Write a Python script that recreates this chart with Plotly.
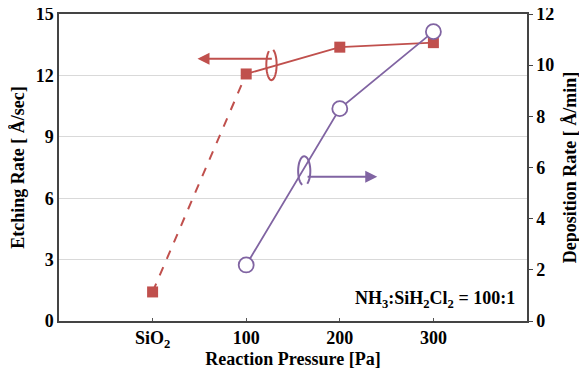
import numpy as np
import plotly.graph_objects as go

categories = ["SiO<sub>2</sub>", "100", "200", "300"]
cat_pos = [0, 1, 2, 3]
etch_sio2 = [1.42, 12.07]          # SiO2 -> 100 (dashed link)
etch_rate = [12.07, 13.38, 13.6]    # 100, 200, 300
dep_rate = [2.19, 8.3, 11.31]       # 100, 200, 300

RED = "#C0504D"
PURPLE = "#8064A2"
FONT = "Liberation Serif"
TICKFONT = dict(family=FONT, size=18, weight="bold", color="black")
TITLEFONT = dict(family=FONT, size=18, weight="bold", color="black")

fig = go.Figure()
fig.add_trace(go.Scatter(x=cat_pos[0:2], y=etch_sio2, mode="lines",
                         line=dict(color=RED, width=2, dash="dash"),
                         showlegend=False, hoverinfo="skip"))
fig.add_trace(go.Scatter(x=cat_pos[1:], y=etch_rate, mode="lines",
                         line=dict(color=RED, width=1.8), showlegend=False))
fig.add_trace(go.Scatter(x=cat_pos, y=[etch_sio2[0]] + etch_rate, mode="markers",
                         marker=dict(symbol="square", size=11, color=RED),
                         showlegend=False))
fig.add_trace(go.Scatter(x=cat_pos[1:], y=dep_rate, mode="lines+markers", yaxis="y2",
                         line=dict(color=PURPLE, width=1.8),
                         marker=dict(symbol="circle", size=15, color="white",
                                     line=dict(color=PURPLE, width=1.8)),
                         showlegend=False))

def curl(cx, cy, rx, ry, a0, a1, n=40):
    t = np.linspace(np.radians(a0), np.radians(a1), n)
    xs = cx + rx * np.cos(t)
    ys = cy + ry * np.sin(t)
    return "M " + " L ".join(f"{x:.4f},{y:.4f}" for x, y in zip(xs, ys))

# Red curl + arrow (pointing to left axis)
fig.add_shape(type="path", path=curl(1.27, 12.53, 0.055, 0.76, 120, 430),
              xref="x", yref="y", line=dict(color=RED, width=2))
fig.add_annotation(x=0.48, y=12.81, ax=1.29, ay=12.81, xref="x", yref="y",
                   axref="x", ayref="y", showarrow=True, arrowhead=2,
                   arrowsize=1.2, arrowwidth=2, arrowcolor=RED, text="")
# Purple curl + arrow (pointing to right axis)
fig.add_shape(type="path", path=curl(1.62, 7.33, 0.065, 0.72, -60, 250),
              xref="x", yref="y", line=dict(color=PURPLE, width=2))
fig.add_annotation(x=2.40, y=7.05, ax=1.64, ay=7.05, xref="x", yref="y",
                   axref="x", ayref="y", showarrow=True, arrowhead=2,
                   arrowsize=1.2, arrowwidth=2, arrowcolor=PURPLE, text="")

fig.add_annotation(x=1, y=0.02, xref="paper", yref="paper", xanchor="right",
                   yanchor="bottom", showarrow=False, xshift=-10, yshift=2,
                   text="NH<sub>3</sub>:SiH<sub>2</sub>Cl<sub>2</sub> = 100:1",
                   font=dict(family=FONT, size=18, weight="bold", color="black"))

fig.update_layout(
    width=587, height=371,
    margin=dict(l=51, r=68, t=6, b=58),
    paper_bgcolor="white", plot_bgcolor="white",
    font=dict(family=FONT, color="black"),
    xaxis=dict(range=[-1, 4], tickvals=cat_pos, ticktext=categories, automargin=False,
               ticks="inside", ticklen=3, tickcolor="#555", showgrid=False, zeroline=False,
               showline=True, linecolor="#444", linewidth=1.5, mirror=True,
               tickfont=TICKFONT, ticklabeloverflow="allow",
               title=dict(text="Reaction Pressure [Pa]", font=TITLEFONT, standoff=2)),
    yaxis=dict(range=[0, 15], tickvals=[0, 3, 6, 9, 12, 15], ticks="", showgrid=True,
               gridcolor="#d9d9d9", gridwidth=1, zeroline=False, showline=True,
               linecolor="#444", linewidth=1.5, automargin=False,
               tickfont=TICKFONT, ticklabeloverflow="allow",
               title=dict(text="Etching Rate [ Å/sec]", font=TITLEFONT, standoff=8)),
    yaxis2=dict(range=[0, 12], tickvals=[0, 2, 4, 6, 8, 10, 12], overlaying="y", side="right",
                ticks="outside", ticklen=4, tickcolor="#444", showgrid=False, zeroline=False,
                showline=True, linecolor="#444", linewidth=1.5, automargin=False,
                tickfont=TICKFONT, ticklabeloverflow="allow",
                title=dict(text="Deposition Rate [ Å/min]", font=TITLEFONT, standoff=10)),
)

fig.write_html("out.html")
